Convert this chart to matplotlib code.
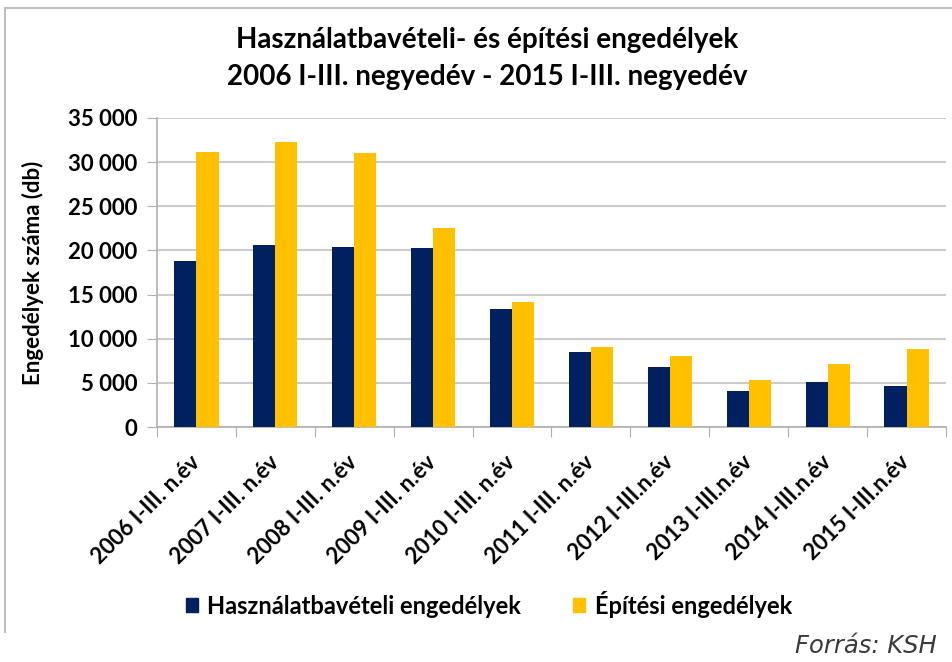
import matplotlib
matplotlib.use("Agg")
import matplotlib.pyplot as plt
from matplotlib.patches import Patch
from matplotlib.lines import Line2D
from matplotlib.ticker import FuncFormatter, FixedLocator
import numpy as np

categories = ["2006 I-III. n.év", "2007 I-III. n.év", "2008 I-III. n.év", "2009 I-III. n.év",
              "2010 I-III. n.év", "2011 I-III. n.év", "2012 I-III.n.év", "2013 I-III.n.év",
              "2014 I-III.n.év", "2015 I-III.n.év"]
hasznalat = [18760, 20570, 20340, 20270, 13360, 8450, 6750, 4110, 5100, 4680]
epitesi = [31100, 32280, 31030, 22570, 14190, 9090, 8040, 5280, 7170, 8790]
series_names = ["Használatbavételi engedélyek", "Építési engedélyek"]
title_lines = ["Használatbavételi- és építési engedélyek", "2006 I-III. negyedév - 2015 I-III. negyedév"]
y_label = "Engedélyek száma (db)"
source = "Forrás: KSH"

NAVY = "#002060"
YELLOW = "#FFC000"
GRID = "#cccccc"
FONT = "Lato"

W, H = 953, 662
fig = plt.figure(figsize=(W / 100, H / 100), dpi=100)
fig.patch.set_facecolor("white")

# outer chart frame (left and top edges visible)
fig.add_artist(Line2D([5 / W, 5 / W], [1 - 632 / H, 1 - 8 / H], transform=fig.transFigure,
                      color="#c0c0c0", lw=1.5))
fig.add_artist(Line2D([5 / W, 1.0], [1 - 8 / H, 1 - 8 / H], transform=fig.transFigure,
                      color="#c0c0c0", lw=1.5))

ax = fig.add_axes([157 / W, 1 - 427 / H, (946 - 157) / W, (427 - 118) / H])
x = np.arange(len(categories))
bw = 0.28
ax.bar(x - bw / 2, hasznalat, bw, color=NAVY, label=series_names[0], zorder=3)
ax.bar(x + bw / 2, epitesi, bw, color=YELLOW, label=series_names[1], zorder=3)

ax.set_xlim(-0.5, len(categories) - 0.5)
ax.set_ylim(0, 35000)
ax.set_yticks(np.arange(0, 35001, 5000))
ax.yaxis.set_major_formatter(FuncFormatter(lambda v, p: f"{int(v):,}".replace(",", " ")))
ax.yaxis.grid(True, color=GRID, lw=1.5, zorder=0)
ax.set_axisbelow(True)

ax.xaxis.set_major_locator(FixedLocator(np.arange(-0.5, len(categories), 1.0)))
ax.xaxis.set_minor_locator(FixedLocator(x))
ax.set_xticklabels([])
ax.set_xticklabels(categories, minor=True, rotation=45, ha="right", va="center",
                   rotation_mode="anchor", fontsize=16, fontweight="bold", family=FONT)
ax.tick_params(axis="x", which="major", length=7, color="#b0b0b0", direction="out")
ax.tick_params(axis="x", which="minor", length=0, pad=23)
ax.tick_params(axis="y", length=7, color="#b0b0b0", pad=7)
for lab in ax.get_yticklabels():
    lab.set_fontsize(16)
    lab.set_fontweight("bold")
    lab.set_family(FONT)

for s in ["top", "right"]:
    ax.spines[s].set_visible(False)
for s in ["left", "bottom"]:
    ax.spines[s].set_color("#b0b0b0")
    ax.spines[s].set_linewidth(1.2)

ax.set_ylabel(y_label, fontsize=16, fontweight="bold", family=FONT)
ax.yaxis.set_label_coords(-(157 - 44) / (946 - 157), 0.5)

fig.text(487 / W, 1 - 40 / H, title_lines[0], ha="center", va="center",
         fontsize=20, fontweight="bold", family=FONT)
fig.text(487 / W, 1 - 77 / H, title_lines[1], ha="center", va="center",
         fontsize=20, fontweight="bold", family=FONT)

handles = [Patch(color=NAVY), Patch(color=YELLOW)]
fig.legend(handles, series_names, loc="center", bbox_to_anchor=(489 / W, 1 - 604 / H),
           ncol=2, frameon=False, handlelength=0.5, handleheight=0.5, handletextpad=0.4,
           columnspacing=2.2, prop={"family": FONT, "weight": "bold", "size": 17})

fig.text(795 / W, 1 - 646 / H, source, ha="left", va="center", fontsize=17.5,
         style="italic", color="#3a3a3a", family="DejaVu Sans")

fig.savefig("out.png", dpi=100, facecolor="white")
